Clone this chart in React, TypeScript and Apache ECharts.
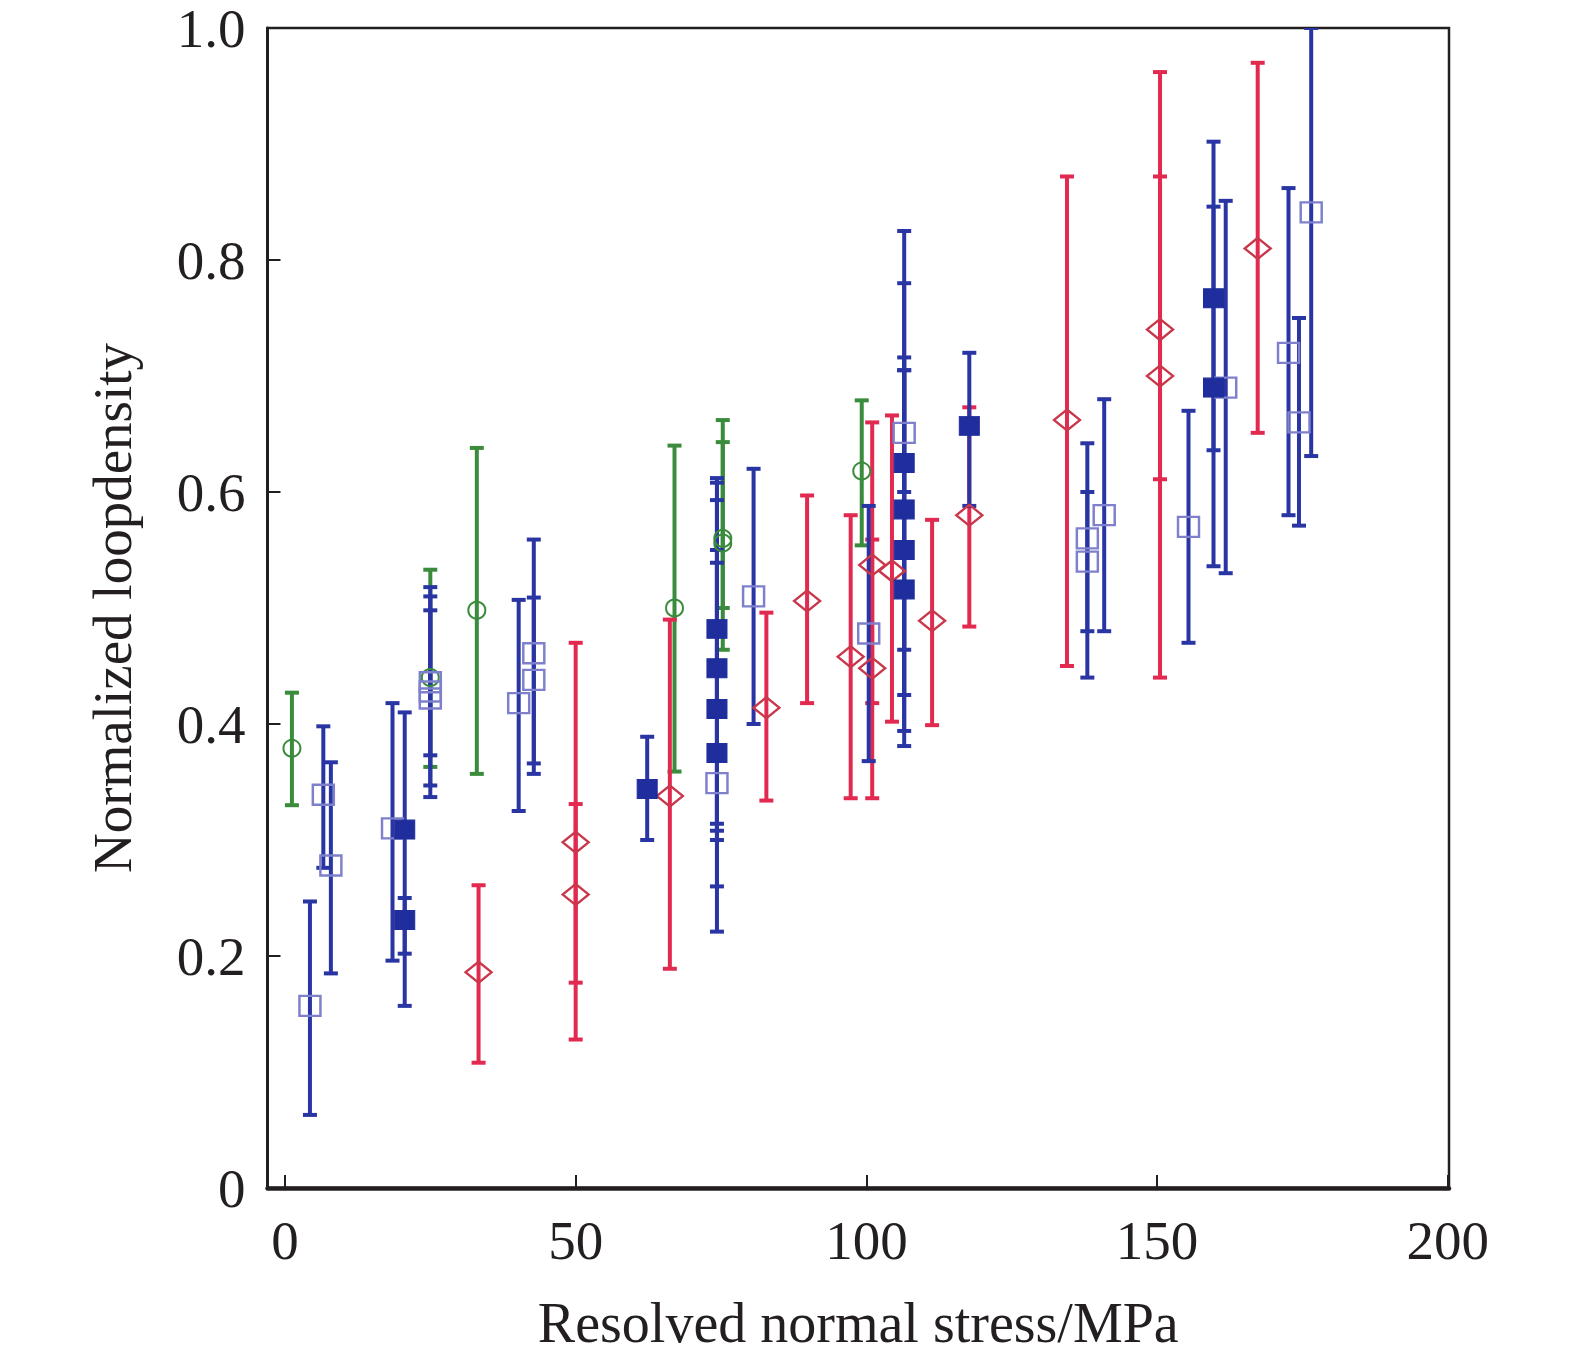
import React, { useEffect, useRef } from "react";
import * as echarts from "echarts";

// ---- data: [x, y, low, high] per group ----
const greenX = [1.2, 25.0, 33.0, 67.0, 75.3, 75.3, 99.2];
const greenY = [0.379, 0.44, 0.498, 0.5, 0.56, 0.556, 0.618];
const greenLow = [0.33, 0.363, 0.357, 0.359, 0.464, 0.5, 0.554];
const greenHigh = [0.427, 0.533, 0.638, 0.64, 0.662, 0.643, 0.679];

const redX = [33.3, 50.0, 50.0, 66.2, 82.8, 89.8, 97.3, 101.0, 101.0, 104.4, 111.3, 117.7, 134.5, 150.5, 150.5, 167.3];
const redY = [0.186, 0.298, 0.253, 0.338, 0.414, 0.506, 0.458, 0.537, 0.448, 0.532, 0.489, 0.58, 0.662, 0.74, 0.7, 0.81];
const redLow = [0.108, 0.128, 0.177, 0.189, 0.334, 0.418, 0.336, 0.336, 0.418, 0.402, 0.399, 0.484, 0.45, 0.44, 0.611, 0.651];
const redHigh = [0.261, 0.47, 0.331, 0.49, 0.496, 0.597, 0.58, 0.66, 0.559, 0.666, 0.576, 0.673, 0.872, 0.962, 0.872, 0.97];

const openX = [4.3, 6.6, 7.9, 18.5, 25.0, 25.0, 25.0, 40.2, 42.8, 42.8, 74.3, 80.6, 100.4, 106.5, 138.0, 138.0, 140.9, 155.4, 161.8, 172.6, 174.4, 176.5];
const openY = [0.157, 0.339, 0.278, 0.31, 0.436, 0.428, 0.422, 0.418, 0.438, 0.461, 0.349, 0.51, 0.478, 0.651, 0.56, 0.54, 0.58, 0.57, 0.69, 0.72, 0.66, 0.841];
const openLow = [0.063, 0.276, 0.185, 0.196, 0.347, 0.337, 0.373, 0.325, 0.366, 0.357, 0.308, 0.4, 0.368, 0.6, 0.44, 0.48, 0.48, 0.47, 0.53, 0.58, 0.571, 0.631];
const openHigh = [0.247, 0.398, 0.367, 0.418, 0.51, 0.518, 0.498, 0.507, 0.509, 0.559, 0.539, 0.62, 0.588, 0.705, 0.642, 0.6, 0.68, 0.67, 0.851, 0.862, 0.75, 1.0];

const filledX = [20.6, 20.6, 62.3, 74.3, 74.3, 74.3, 74.3, 106.5, 106.5, 106.5, 106.5, 117.7, 159.7, 159.7];
const filledY = [0.309, 0.231, 0.344, 0.482, 0.448, 0.413, 0.375, 0.625, 0.585, 0.55, 0.516, 0.657, 0.767, 0.69];
const filledLow = [0.157, 0.202, 0.3, 0.221, 0.26, 0.3, 0.314, 0.381, 0.394, 0.425, 0.464, 0.588, 0.536, 0.636];
const filledHigh = [0.41, 0.25, 0.389, 0.612, 0.608, 0.593, 0.55, 0.825, 0.78, 0.716, 0.705, 0.72, 0.902, 0.846];

const xTicks = [0, 50, 100, 150, 200];

const GREEN = "#3a8c3c";
const RED = "#e22a50";
const RED_MARK = "#c8384a";
const BLUE = "#2a35a4";
const BLUE_FILL = "#1f2e9c";
const LIGHT = "#7e80cc";
const INK = "#231f20";
const FONT = "'Liberation Serif', 'Times New Roman', serif";

const zip = (xs: number[], ys: number[], lo: number[], hi: number[]) =>
  xs.map((x, i) => [x, ys[i], lo[i], hi[i]]);

const errSeries = (data: number[][], color: string) => ({
  type: "custom",
  clip: true,
  z: 2,
  encode: { x: 0, y: [2, 3] },
  data,
  renderItem: (params: any, api: any) => {
    const x = api.value(0);
    const lo = api.coord([x, api.value(2)]);
    const hi = api.coord([x, api.value(3)]);
    const hw = 7;
    const st = { stroke: color, lineWidth: 4 };
    return {
      type: "group",
      children: [
        { type: "line", shape: { x1: lo[0], y1: lo[1], x2: hi[0], y2: hi[1] }, style: st },
        { type: "line", shape: { x1: lo[0] - hw, y1: lo[1], x2: lo[0] + hw, y2: lo[1] }, style: st },
        { type: "line", shape: { x1: hi[0] - hw, y1: hi[1], x2: hi[0] + hw, y2: hi[1] }, style: st },
      ],
    };
  },
});

const markSeries = (data: number[][], symbol: string, size: any, fill: string, border: string, bw: number) => ({
  type: "scatter",
  z: 3,
  symbol,
  symbolSize: size,
  data: data.map((d) => [d[0], d[1]]),
  itemStyle: { color: fill, borderColor: border, borderWidth: bw, opacity: 1 },
});

export default function App() {
  const ref = useRef<HTMLDivElement>(null);
  useEffect(() => {
    if (!ref.current) return;
    document.body.style.margin = "0";
    const chart = echarts.init(ref.current, null, { renderer: "svg" });
    const green = zip(greenX, greenY, greenLow, greenHigh);
    const red = zip(redX, redY, redLow, redHigh);
    const open = zip(openX, openY, openLow, openHigh);
    const filled = zip(filledX, filledY, filledLow, filledHigh);
    chart.setOption({
      animation: false,
      backgroundColor: "#ffffff",
      grid: {
        left: 267.5,
        top: 28,
        width: 1181.5,
        height: 1160,
        outerBoundsMode: "none",
        containLabel: false,
        show: true,
        borderColor: INK,
        borderWidth: 2.5,
        backgroundColor: "transparent",
      },
      xAxis: {
        type: "value",
        min: -3,
        max: 200.2,
        name: "Resolved normal stress/MPa",
        nameLocation: "middle",
        nameGap: 107,
        nameTextStyle: { fontFamily: FONT, fontSize: 56, color: INK },
        axisLine: { show: true, onZero: false, lineStyle: { color: INK, width: 4.5 } },
        axisTick: { show: true, inside: true, length: 13, customValues: xTicks, lineStyle: { color: INK, width: 2 } },
        axisLabel: {
          customValues: xTicks,
          margin: 25,
          fontFamily: FONT,
          fontSize: 55,
          color: INK,
          showMinLabel: true,
          showMaxLabel: true,
        },
        splitLine: { show: false },
      },
      yAxis: {
        type: "value",
        min: 0,
        max: 1,
        interval: 0.2,
        name: "Normalized loopdensity",
        nameLocation: "middle",
        nameGap: 128,
        nameRotate: 90,
        nameTextStyle: { fontFamily: FONT, fontSize: 55, color: INK },
        axisLine: { show: true, onZero: false, lineStyle: { color: INK, width: 3 } },
        axisTick: { show: true, inside: true, length: 13, lineStyle: { color: INK, width: 2 } },
        axisLabel: {
          margin: 22,
          fontFamily: FONT,
          fontSize: 55,
          lineHeight: 44,
          color: INK,
          formatter: (v: number) => (Math.abs(v) < 1e-9 ? "0" : v.toFixed(1)),
        },
        splitLine: { show: false },
      },
      series: [
        errSeries(green, GREEN),
        errSeries(red, RED),
        errSeries(open, BLUE),
        errSeries(filled, BLUE),
        markSeries(green, "circle", 17, "rgba(0,0,0,0)", GREEN, 2),
        markSeries(red, "diamond", [26, 21], "rgba(0,0,0,0)", RED_MARK, 2.4),
        markSeries(open, "rect", [21, 20], "rgba(0,0,0,0)", LIGHT, 2.4),
        markSeries(filled, "rect", [20, 19], BLUE_FILL, BLUE_FILL, 1),
      ],
    });
    return () => chart.dispose();
  }, []);
  return <div ref={ref} style={{ width: 1575, height: 1357 }} />;
}
